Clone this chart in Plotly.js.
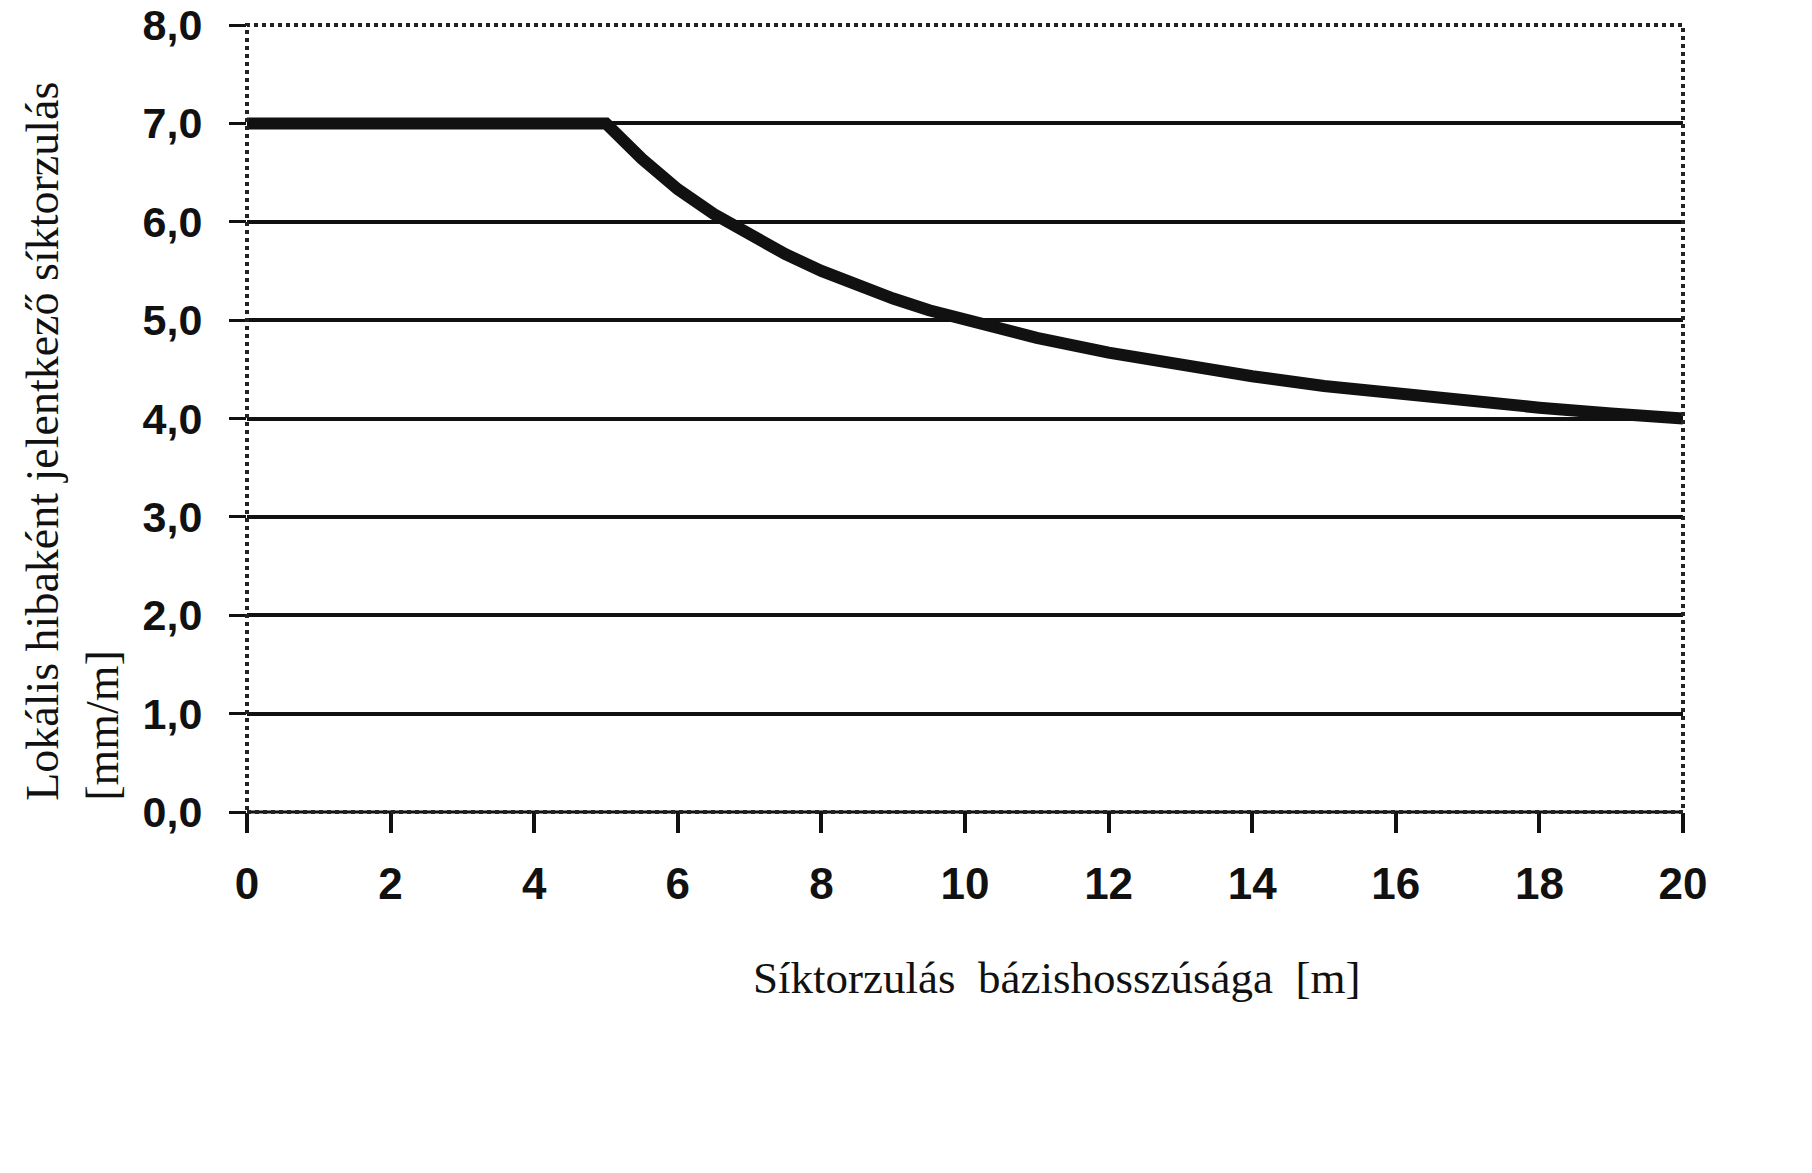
<!DOCTYPE html>
<html>
<head>
<meta charset="utf-8">
<script src="https://cdn.plot.ly/plotly-3.0.1.min.js"></script>
<style>html,body{margin:0;padding:0;background:#fff;}#chart{width:1812px;height:1173px;}</style>
</head>
<body>
<div id="chart"></div>
<script>
// Data
const baseLength = [0, 5, 5.5, 6, 6.5, 7, 7.5, 8, 8.5, 9, 9.5, 10, 11, 12, 13, 14, 15, 16, 17, 18, 19, 20];
const localDistortion = [7, 7, 6.64, 6.33, 6.08, 5.86, 5.67, 5.5, 5.35, 5.22, 5.1, 5.0, 4.82, 4.67, 4.54, 4.43, 4.33, 4.25, 4.18, 4.11, 4.05, 4.0];
const xTicks = [0, 2, 4, 6, 8, 10, 12, 14, 16, 18, 20];
const yTicks = [0, 1, 2, 3, 4, 5, 6, 7, 8];
const xTitle = "Síktorzulás&nbsp; bázishosszúsága&nbsp; [m]";
const yTitleLine1 = "Lokális hibaként jelentkező síktorzulás";
const yTitleLine2 = "[mm/m]";

const trace = {
  x: baseLength, y: localDistortion, type: 'scatter', mode: 'lines',
  line: {color: '#111', width: 12}, cliponaxis: false, hoverinfo: 'skip'
};

const layout = {
  width: 1812, height: 1173,
  margin: {l: 247, r: 129, t: 25, b: 361},
  paper_bgcolor: '#fff', plot_bgcolor: '#fff',
  separators: ', ',
  showlegend: false,
  xaxis: {
    range: [0, 20], tickvals: xTicks, ticktext: xTicks.map(String),
    showgrid: false, zeroline: false, showline: false,
    ticks: 'outside', ticklen: 20, tickwidth: 4, tickcolor: '#111',
    tickfont: {family: 'Liberation Sans, Arial, sans-serif', size: 44, color: '#111', weight: 'bold'},
    ticklabelstandoff: 13, ticklabeloverflow: 'allow'
  },
  yaxis: {
    range: [0, 8], tickvals: yTicks, tickformat: '.1f',
    showgrid: true, gridcolor: '#111', gridwidth: 4,
    zeroline: false, showline: false,
    ticks: 'outside', ticklen: 17, tickwidth: 3, tickcolor: '#111',
    tickfont: {family: 'Liberation Sans, Arial, sans-serif', size: 43, color: '#111', weight: 'bold'},
    ticklabelstandoff: 18, ticklabeloverflow: 'allow'
  },
  shapes: [
    {type: 'rect', xref: 'paper', yref: 'paper', x0: 0, x1: 1, y0: 0, y1: 1,
     line: {color: '#222', width: 4, dash: 'dot'}, layer: 'above'},
    {type: 'line', xref: 'paper', yref: 'paper', x0: 0, x1: 1, y0: 0, y1: 0,
     line: {color: '#111', width: 3}, layer: 'below'}
  ],
  annotations: [
    {xref: 'paper', yref: 'paper', x: 0.564, y: -0.245, showarrow: false,
     text: xTitle, font: {family: 'Liberation Serif, Times New Roman, serif', size: 45, color: '#111'}},
    {xref: 'paper', yref: 'paper', x: -0.122, y: 0.012, xanchor: 'center', yanchor: 'bottom',
     showarrow: false, textangle: -90, align: 'left',
     text: yTitleLine1 + '<br>' + yTitleLine2,
     font: {family: 'Liberation Serif, Times New Roman, serif', size: 46, color: '#111'}}
  ]
};

Plotly.newPlot('chart', [trace], layout, {displayModeBar: false, staticPlot: true});
</script>
</body>
</html>
